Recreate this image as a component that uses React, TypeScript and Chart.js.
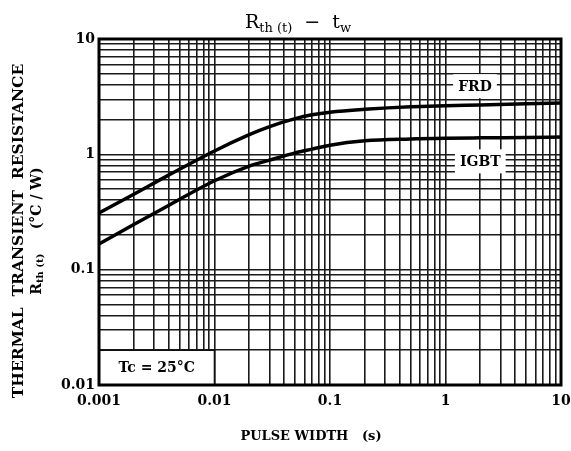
import React, { useEffect, useRef } from 'react';
import { Chart, registerables } from 'chart.js';

Chart.register(...registerables);

// Data (pulse width in s, Rth(t) in °C/W)
const pulseWidth = [0.001, 0.002, 0.004, 0.01, 0.02, 0.03, 0.05, 0.07, 0.1, 0.2, 0.5, 1, 2, 5, 10];
const frdValues = [0.31, 0.45, 0.66, 1.07, 1.48, 1.74, 2.04, 2.2, 2.32, 2.46, 2.59, 2.64, 2.68, 2.74, 2.79];
const igbtValues = [0.167, 0.246, 0.36, 0.59, 0.79, 0.89, 1.03, 1.11, 1.2, 1.31, 1.36, 1.38, 1.39, 1.4, 1.41];

const xDecades = [0.001, 0.01, 0.1, 1, 10];
const yDecades = [0.01, 0.1, 1, 10];
const minorSteps = [1, 2, 3, 4, 5, 6, 7, 8, 9];

const seriesLabels = ['FRD', 'IGBT'];
const labelPositions = [
  { x: 1.8, y: 3.9 },
  { x: 2.0, y: 0.87 },
];
const tcText = 'Tc = 25°C';

const SERIF = '"DejaVu Serif", "Liberation Serif", serif';

function buildTicks(decades: number[]) {
  const out: { value: number }[] = [];
  for (let i = 0; i < decades.length; i++) {
    if (i === decades.length - 1) {
      out.push({ value: decades[i] });
    } else {
      for (const m of minorSteps) out.push({ value: +(decades[i] * m).toPrecision(6) });
    }
  }
  return out;
}

function isDecade(v: number, decades: number[]) {
  return decades.some((d) => Math.abs(d - v) / d < 1e-6);
}

const decorPlugin = {
  id: 'decor',
  beforeDatasetsDraw(chart: any) {
    const { ctx } = chart;
    const xs = chart.scales.x;
    const ys = chart.scales.y;
    ctx.save();
    // Tc box (white, covering grid)
    const bx0 = xs.getPixelForValue(0.001);
    const bx1 = xs.getPixelForValue(0.01);
    const by0 = ys.getPixelForValue(0.02);
    const by1 = ys.getPixelForValue(0.01);
    ctx.fillStyle = '#fff';
    ctx.fillRect(bx0, by0, bx1 - bx0, by1 - by0);
    ctx.strokeStyle = '#111';
    ctx.lineWidth = 1.6;
    ctx.beginPath();
    ctx.moveTo(bx0, by0);
    ctx.lineTo(bx1, by0);
    ctx.lineTo(bx1, by1);
    ctx.stroke();
    ctx.fillStyle = '#000';
    ctx.font = `bold 14px ${SERIF}`;
    ctx.textAlign = 'center';
    ctx.textBaseline = 'middle';
    ctx.fillText(tcText, (bx0 + bx1) / 2, (by0 + by1) / 2 + 1);

    // series labels with white boxes
    ctx.font = `bold 14px ${SERIF}`;
    seriesLabels.forEach((t, i) => {
      const px = xs.getPixelForValue(labelPositions[i].x);
      const py = ys.getPixelForValue(labelPositions[i].y);
      const w = ctx.measureText(t).width + 10;
      const h = 24;
      ctx.fillStyle = '#fff';
      ctx.fillRect(px - w / 2, py - h / 2, w, h);
      ctx.fillStyle = '#000';
      ctx.fillText(t, px, py + 1);
    });
    ctx.restore();
  },
  afterDraw(chart: any) {
    const { ctx, chartArea } = chart;
    ctx.save();
    // frame
    ctx.strokeStyle = '#000';
    ctx.lineWidth = 3;
    ctx.strokeRect(chartArea.left, chartArea.top, chartArea.right - chartArea.left, chartArea.bottom - chartArea.top);

    ctx.fillStyle = '#000';
    // Title: R_th (t) − t_w
    const big = `19px ${SERIF}`;
    const small = `13px ${SERIF}`;
    const parts: [string, string, number][] = [
      ['R', big, 0],
      ['th (t)', small, 4],
      ['  −  t', big, 0],
      ['w', small, 4],
    ];
    let total = 0;
    for (const [t, f] of parts) {
      ctx.font = f;
      total += ctx.measureText(t).width;
    }
    let x = 298 - total / 2;
    const baseY = 28;
    ctx.textAlign = 'left';
    ctx.textBaseline = 'alphabetic';
    for (const [t, f, dy] of parts) {
      ctx.font = f;
      ctx.fillText(t, x, baseY + dy);
      x += ctx.measureText(t).width;
    }

    // X axis title
    ctx.font = `bold 13px ${SERIF}`;
    ctx.textAlign = 'center';
    ctx.textBaseline = 'middle';
    ctx.fillText('PULSE WIDTH   (s)', 311, 437);

    // Y axis title (rotated)
    ctx.save();
    ctx.translate(19, 231);
    ctx.rotate(-Math.PI / 2);
    ctx.font = `bold 15.5px ${SERIF}`;
    ctx.textAlign = 'center';
    ctx.textBaseline = 'middle';
    ctx.fillText('THERMAL  TRANSIENT  RESISTANCE', 0, 0);
    ctx.restore();

    ctx.save();
    ctx.translate(37, 231);
    ctx.rotate(-Math.PI / 2);
    const p2: [string, string, number][] = [
      ['R', `bold 14px ${SERIF}`, 0],
      ['th (t)', `bold 10px ${SERIF}`, 3],
      ['     (°C / W)', `bold 14px ${SERIF}`, 0],
    ];
    let tw = 0;
    for (const [t, f] of p2) {
      ctx.font = f;
      tw += ctx.measureText(t).width;
    }
    let xx = -tw / 2;
    ctx.textAlign = 'left';
    ctx.textBaseline = 'middle';
    for (const [t, f, dy] of p2) {
      ctx.font = f;
      ctx.fillText(t, xx, dy);
      xx += ctx.measureText(t).width;
    }
    ctx.restore();

    ctx.restore();
  },
};

export default function App() {
  const ref = useRef<HTMLCanvasElement | null>(null);

  useEffect(() => {
    document.body.style.margin = '0';
    const canvas = ref.current;
    if (!canvas) return;
    const tickFont = { family: SERIF, size: 14, weight: 'bold' as const };
    const grid = {
      color: '#1a1a1a',
      lineWidth: 1.6,
      drawTicks: false,
    };
    const chart = new Chart(canvas, {
      type: 'line',
      data: {
        datasets: [
          {
            label: seriesLabels[0],
            data: pulseWidth.map((t, i) => ({ x: t, y: frdValues[i] })),
            borderColor: '#000',
            borderWidth: 3.5,
            pointRadius: 0,
            cubicInterpolationMode: 'monotone',
            fill: false,
          },
          {
            label: seriesLabels[1],
            data: pulseWidth.map((t, i) => ({ x: t, y: igbtValues[i] })),
            borderColor: '#000',
            borderWidth: 3.5,
            pointRadius: 0,
            cubicInterpolationMode: 'monotone',
            fill: false,
          },
        ],
      },
      options: {
        responsive: false,
        animation: false,
        events: [],
        layout: { padding: { left: 0, top: 39, right: 10, bottom: 0 } },
        plugins: {
          legend: { display: false },
          title: { display: false },
          tooltip: { enabled: false },
        },
        scales: {
          x: {
            type: 'logarithmic',
            min: 0.001,
            max: 10,
            grid,
            border: { display: false },
            afterBuildTicks: (scale: any) => {
              scale.ticks = buildTicks(xDecades);
            },
            afterFit: (scale: any) => {
              scale.height = 66;
              scale.paddingLeft = 0;
              scale.paddingRight = 0;
            },
            ticks: {
              autoSkip: false,
              maxRotation: 0,
              color: '#000',
              font: tickFont,
              padding: 8,
              callback: (v: any) => (isDecade(Number(v), xDecades) ? String(Number(v)) : ''),
            },
          },
          y: {
            type: 'logarithmic',
            min: 0.01,
            max: 10,
            grid,
            border: { display: false },
            afterBuildTicks: (scale: any) => {
              scale.ticks = buildTicks(yDecades);
            },
            afterFit: (scale: any) => {
              scale.width = 99;
              scale.paddingTop = 0;
              scale.paddingBottom = 0;
            },
            ticks: {
              autoSkip: false,
              color: '#000',
              font: tickFont,
              padding: 4,
              callback: (v: any) => (isDecade(Number(v), yDecades) ? String(Number(v)) : ''),
            },
          },
        },
      } as any,
      plugins: [decorPlugin],
    });
    return () => chart.destroy();
  }, []);

  return (
    <div style={{ width: 571, height: 451, background: '#fff' }}>
      <canvas ref={ref} width={571} height={451} style={{ display: 'block' }} />
    </div>
  );
}
